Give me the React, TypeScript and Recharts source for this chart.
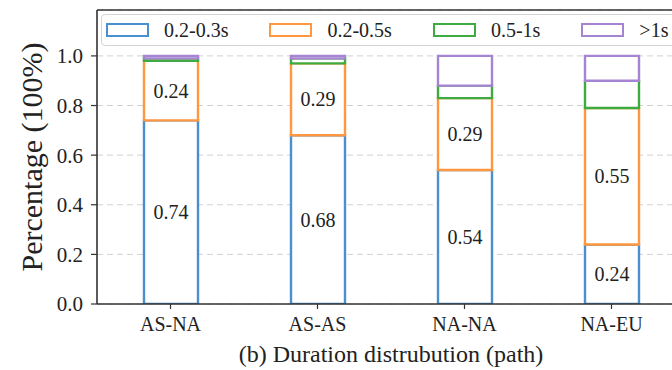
import { Bar, BarChart, CartesianGrid, LabelList, Legend, ReferenceLine, XAxis, YAxis } from "recharts";

const paths = ["AS-NA", "AS-AS", "NA-NA", "NA-EU"];
const share02to03 = [0.74, 0.68, 0.54, 0.24];
const share02to05 = [0.24, 0.29, 0.29, 0.55];
const share05to1 = [0.01, 0.02, 0.05, 0.11];
const shareOver1 = [0.01, 0.01, 0.12, 0.1];
const yTicks = [0, 0.2, 0.4, 0.6, 0.8, 1.0];
const Y_MAX = 1.185;

const series = [
  { key: "s1", name: "0.2-0.3s", color: "#4a90d0", labeled: true },
  { key: "s2", name: "0.2-0.5s", color: "#ff9640", labeled: true },
  { key: "s3", name: "0.5-1s", color: "#3faa3f", labeled: false },
  { key: "s4", name: ">1s", color: "#a584d2", labeled: false },
];

const data = paths.map((path, i) => ({
  path,
  s1: share02to03[i],
  s2: share02to05[i],
  s3: share05to1[i],
  s4: shareOver1[i],
}));

const FONT = "'Liberation Serif', 'Times New Roman', serif";

// boxed legend row drawn across the top of the axes
function LegendBox() {
  return (
    <div
      style={{
        display: "flex",
        alignItems: "center",
        height: 32,
        width: 620,
        border: "1px solid #d4d4d4",
        borderRadius: 4,
        background: "rgba(255,255,255,0.9)",
        fontFamily: FONT,
        fontSize: 20,
        color: "#222",
        boxSizing: "border-box",
        paddingLeft: 4,
      }}
    >
      {series.map((s) => (
        <div key={s.key} style={{ display: "flex", alignItems: "center", marginRight: 41 }}>
          <span
            style={{
              display: "inline-block",
              width: 43,
              height: 14,
              border: `2px solid ${s.color}`,
              boxSizing: "border-box",
              marginRight: 15,
            }}
          />
          <span>{s.name}</span>
        </div>
      ))}
    </div>
  );
}

export default function App() {
  return (
    <div
      style={{
        position: "absolute",
        left: 0,
        top: 0,
        width: 672,
        height: 370,
        overflow: "hidden",
        background: "#fff",
      }}
    >
      <BarChart
        width={700}
        height={370}
        data={data}
        margin={{ top: 10, right: 15, bottom: 0, left: 0 }}
      >
        <CartesianGrid
          vertical={false}
          stroke="#d2d2d2"
          strokeDasharray="6 4"
        />
        <XAxis
          dataKey="path"
          height={66}
          axisLine={{ stroke: "#333", strokeWidth: 1.6 }}
          tickLine={{ stroke: "#333", strokeWidth: 1.2 }}
          tickSize={5}
          tickMargin={8}
          tick={{ fill: "#222", fontSize: 20, fontFamily: FONT }}
          label={{
            value: "(b) Duration distrubution (path)",
            position: "insideBottom",
            offset: 8,
            fill: "#222",
            fontSize: 24,
            fontFamily: FONT,
          }}
        />
        <YAxis
          width={97}
          domain={[0, Y_MAX]}
          ticks={yTicks}
          allowDataOverflow
          tickFormatter={(v: number) => v.toFixed(1)}
          axisLine={{ stroke: "#333", strokeWidth: 1.6 }}
          tickLine={{ stroke: "#333", strokeWidth: 1.2 }}
          tickSize={6}
          tickMargin={8}
          tick={{ fill: "#222", fontSize: 21, fontFamily: FONT }}
          label={{
            value: "Percentage (100%)",
            angle: -90,
            position: "insideLeft",
            offset: 31,
            textAnchor: "middle",
            fill: "#222",
            fontSize: 30,
            fontFamily: FONT,
          }}
        />
        {/* top spine */}
        <ReferenceLine y={Y_MAX} stroke="#333" strokeWidth={1.6} />
        <Legend
          verticalAlign="middle"
          align="center"
          layout="horizontal"
          wrapperStyle={{ top: 14, left: 101, width: 620 }}
          content={() => <LegendBox />}
        />
        {series.map((s) => (
          <Bar
            key={s.key}
            dataKey={s.key}
            name={s.name}
            stackId="dur"
            fill="#fff"
            stroke={s.color}
            strokeWidth={2.4}
            barSize={54}
            isAnimationActive={false}
          >
            {s.labeled && (
              <LabelList
                dataKey={s.key}
                position="center"
                fill="#222"
                fontSize={20}
                fontFamily={FONT}
                formatter={(v: number) => v.toFixed(2)}
              />
            )}
          </Bar>
        ))}
      </BarChart>
    </div>
  );
}
